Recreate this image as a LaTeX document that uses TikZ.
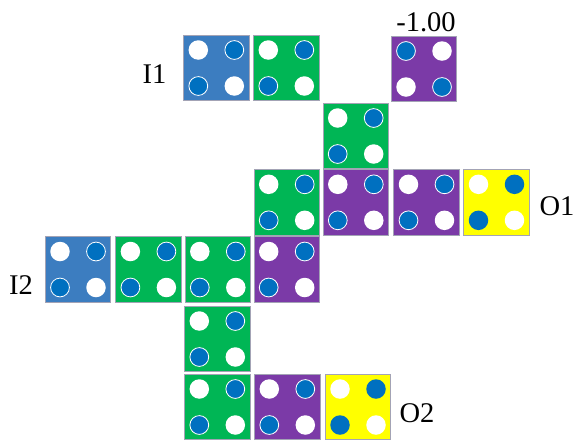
\documentclass[tikz,border=0pt]{standalone}
\usepackage{fontspec}
\setmainfont{Liberation Serif}
\definecolor{tileblue}{HTML}{3C7DC0}
\definecolor{tilegreen}{HTML}{00B655}
\definecolor{tilepurple}{HTML}{7B3AA7}
\definecolor{tileyellow}{HTML}{FFFF00}
\definecolor{dotblue}{HTML}{0070C0}
\definecolor{cellborder}{HTML}{A3A3B5}
\tikzset{
  cell/.style={draw=cellborder, line width=0.9pt, minimum size=65.5pt, inner sep=0pt, outer sep=0pt},
  wdot/.style={circle, fill=white, minimum size=19.5pt, inner sep=0pt},
  bdot/.style={circle, fill=dotblue, draw=white, line width=0.8pt, minimum size=18.8pt, inner sep=0pt},
  ydot/.style={circle, fill=dotblue, minimum size=19.5pt, inner sep=0pt},
  lbl/.style={font=\fontsize{28.5}{28.5}\selectfont, inner sep=0pt},
  pics/tile/.style n args={3}{code={
    \node[cell, fill=#1] (-box) at (0,0) {};
    \node[#2] (-tl) at (-18,-18) {};
    \node[#3] (-tr) at (18,-18) {};
    \node[#3] (-bl) at (-18,18) {};
    \node[#2] (-br) at (18,18) {};
  }}
}
\begin{document}
\begin{tikzpicture}[x=1pt,y=-1pt]
\useasboundingbox (0,0) rectangle (576,440);
% row 1
\pic (a1) at (216.3,68) {tile={tileblue}{wdot}{bdot}};
\pic (a2) at (286.3,68) {tile={tilegreen}{wdot}{bdot}};
\pic (a3) at (424,69) {tile={tilepurple}{bdot}{wdot}};
% row 2
\pic (b1) at (355.7,136) {tile={tilegreen}{wdot}{bdot}};
% row 3
\pic (c1) at (286.7,202.3) {tile={tilegreen}{wdot}{bdot}};
\pic (c2) at (355.8,202.3) {tile={tilepurple}{wdot}{bdot}};
\pic (c3) at (426.5,202.3) {tile={tilepurple}{wdot}{bdot}};
\pic (c4) at (496.5,202.3) {tile={tileyellow}{wdot}{ydot}};
% row 4
\pic (d1) at (78,269.5) {tile={tileblue}{wdot}{bdot}};
\pic (d2) at (148.4,269.5) {tile={tilegreen}{wdot}{bdot}};
\pic (d3) at (217.8,269.5) {tile={tilegreen}{wdot}{bdot}};
\pic (d4) at (286.7,269.5) {tile={tilepurple}{wdot}{bdot}};
% row 5
\pic (e1) at (217.3,339) {tile={tilegreen}{wdot}{bdot}};
% row 6
\pic (f1) at (217.3,407) {tile={tilegreen}{wdot}{bdot}};
\pic (f2) at (287.3,407) {tile={tilepurple}{wdot}{bdot}};
\pic (f3) at (358,407) {tile={tileyellow}{wdot}{ydot}};
% labels
\node[lbl] (li1) at (154.6,74) {I1};
\node[lbl] (li2) at (21,285) {I2};
\node[lbl] (lo1) at (557,206) {O1};
\node[lbl] (lo2) at (417,413) {O2};
\node[lbl] (lval) at (426,22.5) {-1.00};
\end{tikzpicture}
\end{document}
